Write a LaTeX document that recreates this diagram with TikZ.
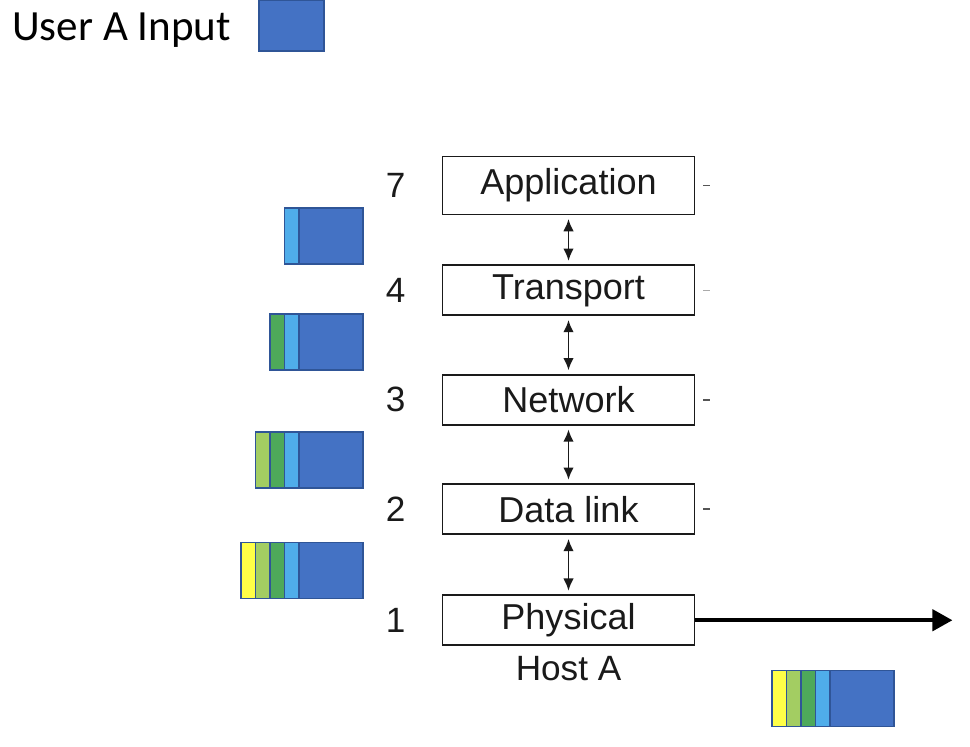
\documentclass[tikz,border=0pt]{standalone}
\usepackage{fontspec}
\setmainfont{Liberation Sans}
\newfontfamily\calibri{Carlito}
\usepackage{tikz}
\usetikzlibrary{arrows.meta,positioning}
\definecolor{ink}{HTML}{1A1A1A}
\definecolor{pktblue}{HTML}{4472C4}
\definecolor{pktedge}{HTML}{2F5597}
\definecolor{hdrtrans}{HTML}{4FADEA}
\definecolor{hdrnet}{HTML}{4EA95A}
\definecolor{hdrlink}{HTML}{A3CD62}
\definecolor{hdrphys}{HTML}{FFFF47}
\definecolor{stubgray}{HTML}{555555}
\tikzset{
  layerbox/.style={rectangle,draw=ink,line width=1.1pt,fill=white,text=ink,
    align=center,font=\fontsize{20.5}{22}\selectfont,
    minimum width=5.04cm,minimum height=1cm,inner sep=2pt},
  layernum/.style={text=ink,font=\fontsize{20}{22}\selectfont},
  layerarr/.style={{Latex[length=7pt,width=6pt]}-{Latex[length=7pt,width=6pt]},line width=1.1pt,color=ink},
  wirearr/.style={-{Triangle[length=0.4cm,width=0.42cm]},line width=2.4pt,color=black},
  stub/.style={line width=1pt,color=stubgray},
  pktbody/.style={rectangle,draw=pktedge,line width=0.8pt,fill=pktblue,
    minimum width=1.28cm,minimum height=1.12cm,inner sep=0pt,outer sep=0pt},
  pktstrip/.style={rectangle,draw=pktedge,line width=0.8pt,
    minimum width=0.29cm,minimum height=1.12cm,inner sep=0pt,outer sep=0pt},
}
\begin{document}
\begin{tikzpicture}[node distance=1.15cm]
  \useasboundingbox (0,0) rectangle (19.4,-14.92);

  % user input
  \node[anchor=west,font=\calibri\fontsize{24.5}{26}\selectfont,inner sep=0pt] (usr) at (0.24,-0.6) {User A Input};
  \node[pktbody,minimum width=1.3cm,minimum height=1.02cm] (usrpkt) at (5.83,-0.51) {};

  % protocol stack
  \node[layerbox,minimum height=1.16cm] (app) at (11.37,-3.71) {Application};
  \node[layerbox, below=0.98cm of app] (trn) {Transport};
  \node[layerbox, below=of trn] (net) {Network};
  \node[layerbox, below=of net] (dl) {Data link};
  \node[layerbox, below=1.18cm of dl] (phy) {Physical};
  \node[layernum, left=0.6cm of app] (n7) {7};
  \node[layernum, left=0.6cm of trn] (n4) {4};
  \node[layernum, left=0.6cm of net] (n3) {3};
  \node[layernum, left=0.6cm of dl] (n2) {2};
  \node[layernum, left=0.6cm of phy] (n1) {1};
  \node[layernum, inner sep=0pt, below=0.2cm of phy] (host) {Host A};

  \draw[layerarr] ([yshift=-2pt]app.south) -- ([yshift=2pt]trn.north);
  \draw[layerarr] ([yshift=-2pt]trn.south) -- ([yshift=2pt]net.north);
  \draw[layerarr] ([yshift=-2pt]net.south) -- ([yshift=2pt]dl.north);
  \draw[layerarr] ([yshift=-2pt]dl.south) -- ([yshift=2pt]phy.north);

  \coordinate[right=5.14cm of phy.east] (wire);
  \draw[wirearr] (phy.east) -- (wire);

  % cut-off stubs
  \draw[stub] ([xshift=0.16cm]app.east) -- ++(0.13,0);
  \draw[stub,stubgray!50] ([xshift=0.16cm]trn.east) -- ++(0.13,0);
  \draw[stub] ([xshift=0.16cm]net.east) -- ++(0.13,0);
  \draw[stub] ([xshift=0.16cm]dl.east) -- ++(0.13,0);

  % packets
  \node[pktbody] (p1) at (6.62,-4.72) {};
  \node[pktstrip,fill=hdrtrans,left=0pt of p1] (p1t) {};

  \node[pktbody] (p2) at (6.62,-6.84) {};
  \node[pktstrip,fill=hdrtrans,left=0pt of p2] (p2t) {};
  \node[pktstrip,fill=hdrnet,left=0pt of p2t] (p2n) {};

  \node[pktbody] (p3) at (6.62,-9.2) {};
  \node[pktstrip,fill=hdrtrans,left=0pt of p3] (p3t) {};
  \node[pktstrip,fill=hdrnet,left=0pt of p3t] (p3n) {};
  \node[pktstrip,fill=hdrlink,left=0pt of p3n] (p3l) {};

  \node[pktbody] (p4) at (6.62,-11.41) {};
  \node[pktstrip,fill=hdrtrans,left=0pt of p4] (p4t) {};
  \node[pktstrip,fill=hdrnet,left=0pt of p4t] (p4n) {};
  \node[pktstrip,fill=hdrlink,left=0pt of p4n] (p4l) {};
  \node[pktstrip,fill=hdrphys,left=0pt of p4l] (p4p) {};

  \node[pktbody] (p5) at (17.24,-13.97) {};
  \node[pktstrip,fill=hdrtrans,left=0pt of p5] (p5t) {};
  \node[pktstrip,fill=hdrnet,left=0pt of p5t] (p5n) {};
  \node[pktstrip,fill=hdrlink,left=0pt of p5n] (p5l) {};
  \node[pktstrip,fill=hdrphys,left=0pt of p5l] (p5p) {};
\end{tikzpicture}
\end{document}
